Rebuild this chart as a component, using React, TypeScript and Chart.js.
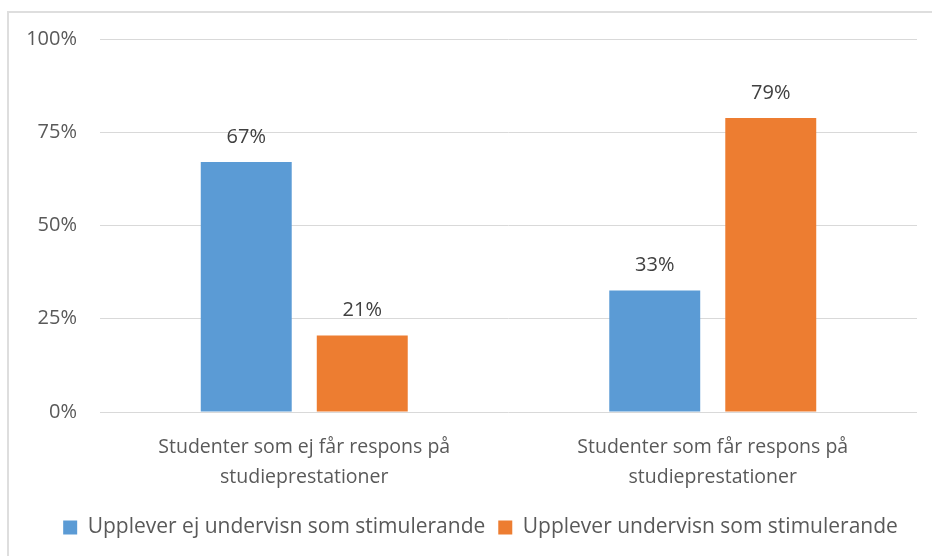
import React, { useEffect, useRef } from "react";
import { Chart, registerables } from "chart.js";

Chart.register(...registerables);

const categories: string[][] = [
  ["Studenter som ej får respons på", "studieprestationer"],
  ["Studenter som får respons på", "studieprestationer"],
];
const seriesNames: string[] = [
  "Upplever ej undervisn som stimulerande",
  "Upplever undervisn som stimulerande",
];
const notStimulated: number[] = [67, 32.6];
const stimulated: number[] = [20.5, 78.8];
const yTickValues: number[] = [0, 25, 50, 75, 100];

const BLUE = "#5B9BD5";
const ORANGE = "#ED7D31";
const FONT = "'Open Sans', 'DejaVu Sans', sans-serif";

const valueLabels = {
  id: "valueLabels",
  afterDatasetsDraw(chart: any) {
    const ctx = chart.ctx;
    ctx.save();
    ctx.font = `20px ${FONT}`;
    ctx.fillStyle = "#404040";
    ctx.textAlign = "center";
    ctx.textBaseline = "middle";
    chart.data.datasets.forEach((ds: any, di: number) => {
      const meta = chart.getDatasetMeta(di);
      meta.data.forEach((el: any, i: number) => {
        const v = ds.data[i];
        ctx.fillText(Math.round(v) + "%", el.x, el.y - 25);
      });
    });
    ctx.restore();
  },
};

const legendShift = {
  id: "legendShift",
  afterLayout(chart: any) {
    const lg = chart.legend;
    if (lg) {
      lg.left += 22;
      lg.right += 22;
    }
  },
};

export default function App() {
  const ref = useRef<HTMLCanvasElement | null>(null);
  useEffect(() => {
    if (!ref.current) return;
    const chart = new Chart(ref.current, {
      type: "bar",
      data: {
        labels: categories,
        datasets: [
          {
            label: seriesNames[0],
            data: notStimulated,
            backgroundColor: BLUE,
            barPercentage: 0.784,
            categoryPercentage: 0.568,
          },
          {
            label: seriesNames[1],
            data: stimulated,
            backgroundColor: ORANGE,
            barPercentage: 0.784,
            categoryPercentage: 0.568,
          },
        ],
      },
      options: {
        animation: false,
        responsive: false,
        layout: { padding: { left: 0, right: 15, top: 39, bottom: 8 } },
        plugins: {
          tooltip: { enabled: false },
          legend: {
            position: "bottom",
            labels: {
              boxWidth: 14,
              boxHeight: 14,
              padding: 13,
              color: "#595959",
              font: { family: FONT, size: 21 },
            },
          },
        },
        scales: {
          x: {
            grid: { display: false, drawTicks: false },
            border: { display: false },
            ticks: {
              color: "#595959",
              padding: 20,
              maxRotation: 0,
              font: { family: FONT, size: 19.5, lineHeight: 1.54 },
            },
            afterFit: (s: any) => {
              s.height = 92;
            },
          },
          y: {
            min: 0,
            max: 100,
            afterBuildTicks: (s: any) => {
              s.ticks = yTickValues.map((v) => ({ value: v }));
            },
            grid: { color: "#d9d9d9", lineWidth: 1, drawTicks: false },
            border: { display: false },
            ticks: {
              color: "#595959",
              padding: 23,
              font: { family: FONT, size: 20 },
              callback: (v: any) => v + "%",
            },
            afterFit: (s: any) => {
              s.width = 100;
            },
          },
        },
      },
      plugins: [valueLabels, legendShift],
    });
    return () => chart.destroy();
  }, []);

  return (
    <div style={{ position: "fixed", inset: 0, overflow: "hidden", background: "#fff" }}>
      <div
        style={{
          position: "absolute",
          left: 7,
          top: 11,
          right: -10,
          bottom: -10,
          borderTop: "2px solid #dedede",
          borderLeft: "2px solid #dedede",
        }}
      />
      <canvas
        ref={ref}
        width={932}
        height={556}
        style={{ position: "absolute", left: 0, top: 0, width: 932, height: 556 }}
      />
    </div>
  );
}
